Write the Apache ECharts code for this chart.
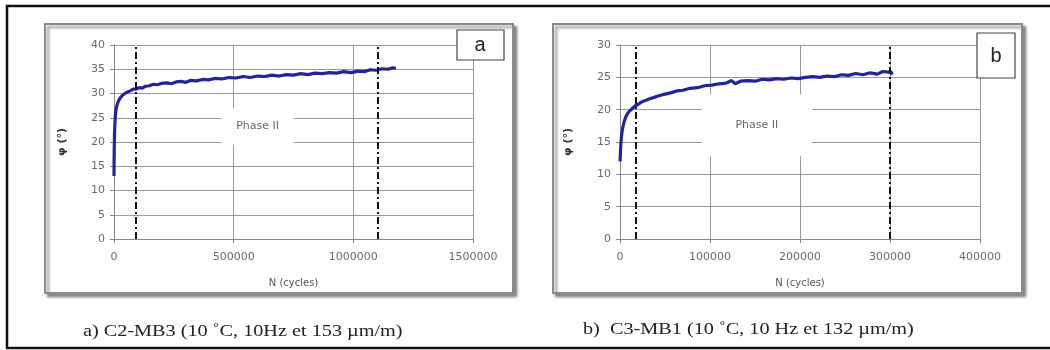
<!DOCTYPE html>
<html>
<head>
<meta charset="utf-8">
<script src="https://cdn.jsdelivr.net/npm/echarts@6/dist/echarts.min.js"></script>
<style>
html,body{margin:0;padding:0;background:#fff;}
#chart{width:1050px;height:350px;}
</style>
</head>
<body>
<div id="chart"></div>
<script>
// ---- Data ----
const nA = [0,500,1000,1500,2000,3000,4000,5000,6500,8000,10000,12500,15000,18000,22000,26000,31000,37000,44000,52000,60000,70000,80000,92000,105000,118000,132000,148000,165000,182000,200000,220000,240000,260000,280000,300000,320000,345000,370000,395000,420000,450000,480000,510000,540000,570000,600000,630000,660000,690000,720000,750000,780000,810000,840000,870000,900000,930000,960000,990000,1020000,1045000,1070000,1095000,1120000,1145000,1165000,1178000];
const phiA = [13.0,16.5,18.2,20.0,21.3,22.8,24.0,24.9,25.8,26.5,27.0,27.6,28.0,28.4,28.8,29.1,29.5,29.7,30.1,30.2,30.5,30.6,30.9,30.9,31.2,31.1,31.5,31.6,31.9,31.8,32.1,32.2,32.0,32.4,32.5,32.3,32.7,32.6,32.9,32.8,33.1,33.0,33.3,33.2,33.5,33.3,33.6,33.5,33.8,33.6,33.9,33.8,34.1,33.9,34.2,34.1,34.3,34.2,34.5,34.3,34.6,34.5,34.9,34.8,35.1,35.0,35.3,35.2];
const nB = [0,300,600,1000,1500,2200,3000,4000,5200,6500,8000,10000,12000,14500,17000,20000,24000,28000,33000,38000,44000,50000,56000,63000,70000,78000,86000,94000,102000,110000,118000,124000,128000,134000,142000,150000,158000,166000,174000,182000,190000,198000,206000,214000,222000,230000,238000,246000,254000,262000,270000,278000,286000,292000,298000,301000,302500];
const phiB = [12.0,12.8,13.8,14.8,15.7,16.5,17.2,17.8,18.4,18.9,19.3,19.7,20.0,20.3,20.6,20.8,21.2,21.4,21.7,21.9,22.2,22.4,22.6,22.9,23.0,23.3,23.4,23.7,23.8,24.0,24.1,24.5,24.0,24.4,24.5,24.4,24.7,24.6,24.8,24.7,24.9,24.8,25.0,25.1,25.0,25.2,25.1,25.4,25.3,25.6,25.4,25.7,25.5,25.9,25.8,25.9,25.4];
const phaseLimitsA = [90000, 1100000];
const phaseLimitsB = [17000, 300000];
const phaseLabelA = [600000, 23.2];
const phaseLabelB = [152000, 17.6];
const xTicksA = {min: 0, max: 1500000, interval: 500000};
const yTicksA = {min: 0, max: 40, interval: 5};
const xTicksB = {min: 0, max: 400000, interval: 100000};
const yTicksB = {min: 0, max: 30, interval: 5};
const captionA = 'a) C2-MB3 (10 ˚C, 10Hz et 153 µm/m)';
const captionB = 'b)  C3-MB1 (10 ˚C, 10 Hz et 132 µm/m)';
const xName = 'N (cycles)';
const yName = 'φ (°)';

// ---- Chart ----
const chart = echarts.init(document.getElementById('chart'), null, {renderer: 'canvas'});
const lblFont = 'DejaVu Sans';
function xAxisCfg(t, gi) {
  return {
    type: 'value', gridIndex: gi, min: t.min, max: t.max, interval: t.interval,
    name: xName, nameLocation: 'middle', nameGap: 39,
    nameTextStyle: {color: '#555', fontSize: 10, fontFamily: lblFont},
    axisLine: {lineStyle: {color: '#888', width: 1}},
    axisTick: {show: true, length: 4, lineStyle: {color: '#888'}},
    axisLabel: {color: '#6a6a6a', fontSize: 11, fontFamily: lblFont, margin: 13, formatter: v => String(v)},
    splitLine: {show: true, lineStyle: {color: '#999', width: 1}}
  };
}
function yAxisCfg(t, gi) {
  return {
    type: 'value', gridIndex: gi, min: t.min, max: t.max, interval: t.interval,
    name: yName, nameLocation: 'middle', nameGap: 46, nameRotate: 90,
    nameTextStyle: {color: '#333', fontSize: 11, fontWeight: 'bold', fontFamily: lblFont},
    axisLine: {show: true, lineStyle: {color: '#888', width: 1}},
    axisTick: {show: true, length: 4, lineStyle: {color: '#888'}},
    axisLabel: {color: '#6a6a6a', fontSize: 11, fontFamily: lblFont, margin: 9},
    splitLine: {show: true, lineStyle: {color: '#999', width: 1}}
  };
}
function curve(ns, ps, gi, limits, labelCoord, labelSize) {
  return {
    type: 'line', xAxisIndex: gi, yAxisIndex: gi,
    data: ns.map((n, i) => [n, ps[i]]),
    showSymbol: false, smooth: false,
    lineStyle: {color: '#23239a', width: 3.2},
    markLine: {
      silent: true, symbol: 'none', label: {show: false},
      lineStyle: {color: '#111', width: 2, type: [7, 3, 2, 3]},
      data: limits.map(v => ({xAxis: v}))
    },
    markPoint: {
      silent: true,
      data: [{coord: labelCoord, symbol: 'rect', symbolSize: labelSize,
        itemStyle: {color: '#fff'},
        label: {show: true, formatter: 'Phase II', color: '#666', fontSize: 11, fontFamily: lblFont}}]
    }
  };
}

const option = {
  animation: false,
  backgroundColor: '#fff',
  grid: [
    {left: 114, top: 45, width: 359, height: 194},
    {left: 620, top: 45, width: 360, height: 194}
  ],
  xAxis: [xAxisCfg(xTicksA, 0), xAxisCfg(xTicksB, 1)],
  yAxis: [yAxisCfg(yTicksA, 0), yAxisCfg(yTicksB, 1)],
  series: [
    curve(nA, phiA, 0, phaseLimitsA, phaseLabelA, [72, 36]),
    curve(nB, phiB, 1, phaseLimitsB, phaseLabelB, [110, 62])
  ],
  graphic: [
    // outer frame
    {type: 'polyline', z: -20, shape: {points: [[1060, 6], [7, 6], [7, 348], [1060, 348]]},
      style: {stroke: '#111', lineWidth: 2.5, fill: null}},
    // panel boxes
    {type: 'rect', z: -10, shape: {x: 45, y: 24, width: 468, height: 269},
      style: {fill: '#fff', stroke: '#8a8a8a', lineWidth: 2, shadowBlur: 3, shadowOffsetX: 3, shadowOffsetY: 3, shadowColor: 'rgba(0,0,0,0.45)'}},
    {type: 'rect', z: -10, shape: {x: 553, y: 24, width: 469, height: 269},
      style: {fill: '#fff', stroke: '#8a8a8a', lineWidth: 2, shadowBlur: 3, shadowOffsetX: 3, shadowOffsetY: 3, shadowColor: 'rgba(0,0,0,0.45)'}},
    // panel letters
    {type: 'rect', z: 100, shape: {x: 457, y: 30, width: 47, height: 30},
      style: {fill: '#fff', stroke: '#444', lineWidth: 1.2}},
    {type: 'text', z: 101, x: 480, y: 45, style: {text: 'a', fontSize: 20, fontFamily: 'Liberation Sans', fill: '#222', textAlign: 'center', textVerticalAlign: 'middle'}},
    {type: 'rect', z: 100, shape: {x: 977, y: 33, width: 38, height: 45},
      style: {fill: '#fff', stroke: '#444', lineWidth: 1.2}},
    {type: 'text', z: 101, x: 996, y: 56, style: {text: 'b', fontSize: 20, fontFamily: 'Liberation Sans', fill: '#222', textAlign: 'center', textVerticalAlign: 'middle'}},
    // captions
    {type: 'text', z: 10, x: 83, y: 332, scaleX: 1.19, style: {text: captionA, fontSize: 17, fontFamily: 'Liberation Serif', fill: '#222', textAlign: 'left', textVerticalAlign: 'middle'}},
    {type: 'text', z: 10, x: 583, y: 330, scaleX: 1.19, style: {text: captionB, fontSize: 17, fontFamily: 'Liberation Serif', fill: '#222', textAlign: 'left', textVerticalAlign: 'middle'}}
  ]
};
chart.setOption(option);
</script>
</body>
</html>
